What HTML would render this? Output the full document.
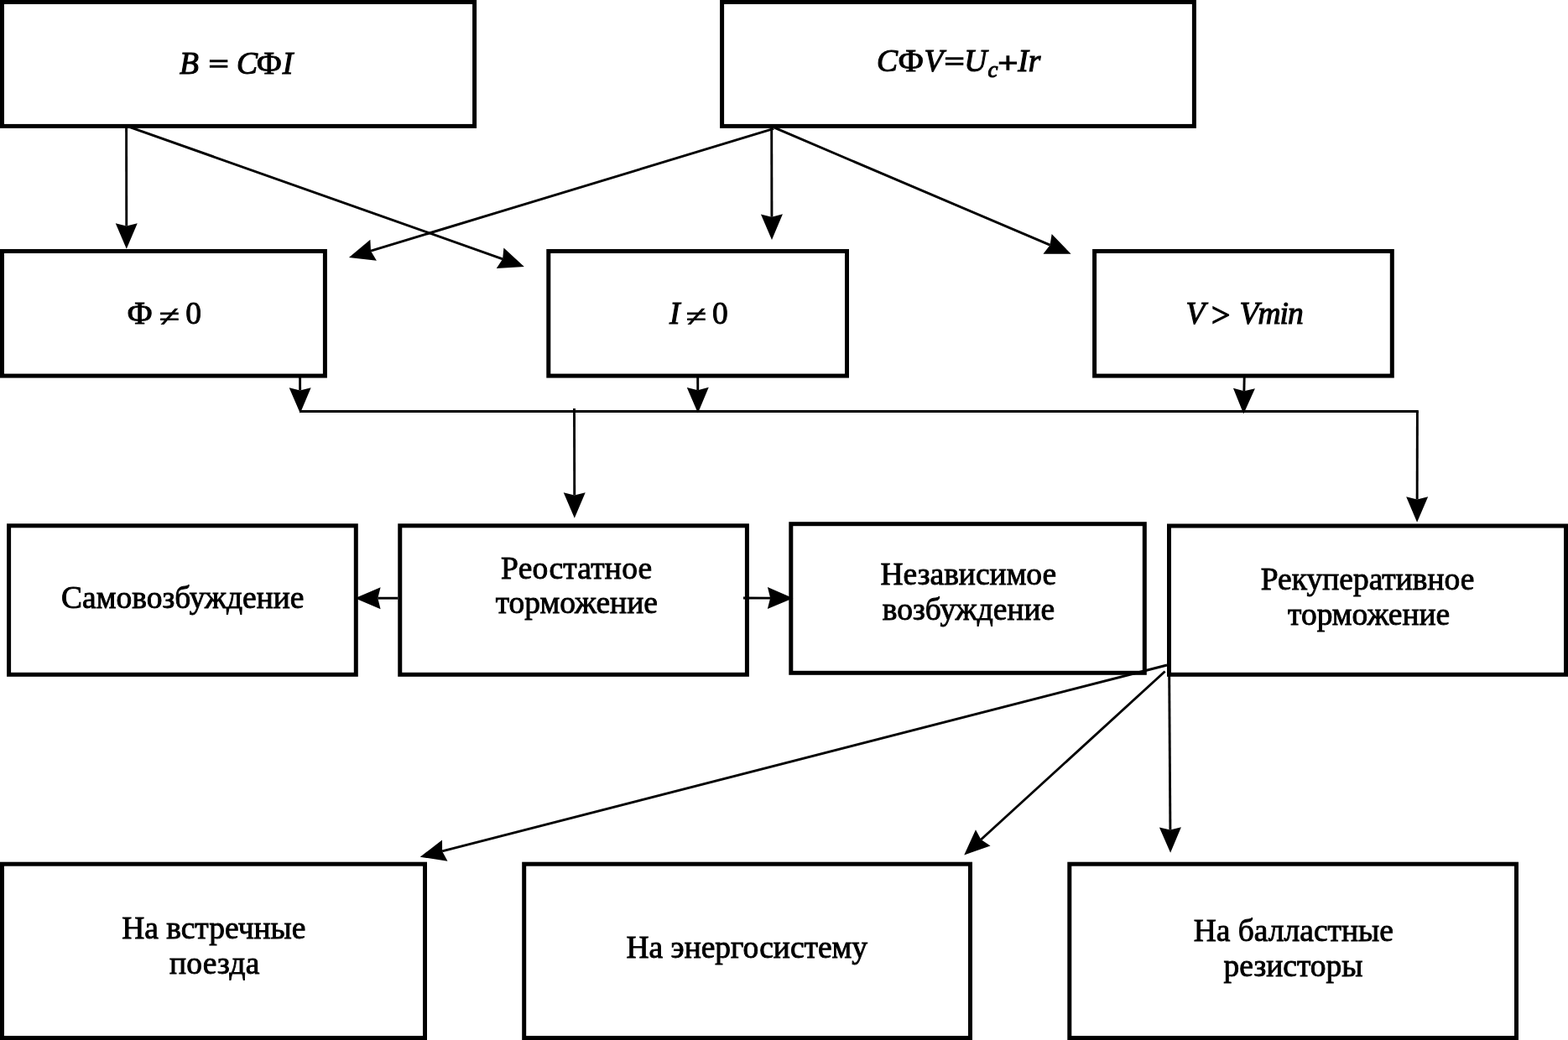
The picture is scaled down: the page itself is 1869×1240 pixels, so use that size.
<!DOCTYPE html>
<html lang="ru">
<head>
<meta charset="utf-8">
<title>Схема</title>
<style>
html,body{margin:0;padding:0;background:#fff;}
body{width:1869px;height:1240px;overflow:hidden;}
svg{display:block;filter:grayscale(1);}
text{font-family:"Liberation Serif","DejaVu Serif",serif;font-size:37.5px;fill:#000;stroke:#000;stroke-width:0.9px;stroke-linejoin:miter;stroke-miterlimit:3;white-space:pre;}
.i{font-style:italic;stroke-width:1.1px;} .sub{font-size:27px;} .op{font-size:37.5px;stroke-width:1.4px;} .ne{stroke-width:0.8px;}
.box rect{fill:none;stroke:#000;stroke-width:5.0;}
.arr line{stroke:#000;stroke-width:2.9;fill:none;}
.arr polygon{fill:#000;stroke:none;}
</style>
</head>
<body>
<svg width="1869" height="1240" viewBox="0 0 1869 1240">

<g class="box">
<rect x="2.50" y="2.50" width="563.10" height="147.90"/>
<rect x="860.60" y="2.50" width="562.80" height="147.90"/>
<rect x="2.50" y="299.50" width="384.90" height="148.60"/>
<rect x="653.80" y="299.50" width="355.70" height="148.60"/>
<rect x="1304.60" y="299.50" width="354.70" height="148.60"/>
<rect x="10.60" y="626.80" width="413.70" height="177.50"/>
<rect x="476.75" y="626.80" width="413.65" height="177.50"/>
<rect x="942.80" y="624.70" width="421.50" height="177.60"/>
<rect x="1393.50" y="627.00" width="473.00" height="177.30"/>
<rect x="2.50" y="1030.20" width="504.00" height="207.30"/>
<rect x="624.70" y="1030.20" width="531.80" height="207.30"/>
<rect x="1274.80" y="1030.20" width="532.70" height="207.30"/>
</g>
<g class="arr">
<line x1="357.00" y1="490.50" x2="1690.80" y2="490.50"/>
<line x1="150.60" y1="152.00" x2="150.76" y2="269.46"/><polygon points="150.80,296.70 137.76,266.22 150.76,269.46 163.76,266.18"/>
<line x1="150.60" y1="150.10" x2="599.16" y2="308.81"/><polygon points="624.85,317.90 591.76,319.98 599.16,308.81 600.43,295.47"/>
<line x1="922.20" y1="153.40" x2="442.01" y2="299.15"/><polygon points="415.94,307.06 441.35,285.76 442.01,299.15 448.90,310.64"/>
<line x1="919.70" y1="152.00" x2="919.94" y2="258.66"/><polygon points="920.00,285.90 906.93,255.43 919.94,258.66 932.93,255.37"/>
<line x1="922.90" y1="152.20" x2="1251.56" y2="292.18"/><polygon points="1276.63,302.85 1243.47,302.86 1251.56,292.18 1253.66,278.94"/>
<line x1="357.60" y1="450.00" x2="357.67" y2="465.46"/><polygon points="357.80,492.70 344.66,462.26 357.67,465.46 370.66,462.14"/>
<line x1="831.70" y1="450.00" x2="831.77" y2="465.16"/><polygon points="831.90,492.40 818.76,461.96 831.77,465.16 844.76,461.84"/>
<line x1="1483.20" y1="450.00" x2="1482.86" y2="466.26"/><polygon points="1482.28,493.50 1469.93,462.73 1482.86,466.26 1495.92,463.28"/>
<line x1="684.50" y1="487.00" x2="684.74" y2="590.46"/><polygon points="684.80,617.70 671.73,587.23 684.74,590.46 697.73,587.17"/>
<line x1="1689.40" y1="490.50" x2="1689.16" y2="595.46"/><polygon points="1689.10,622.70 1676.17,592.17 1689.16,595.46 1702.17,592.23"/>
<line x1="474.25" y1="713.20" x2="450.34" y2="713.20"/><polygon points="423.10,713.20 453.60,700.20 450.34,713.20 453.60,726.20"/>
<line x1="886.00" y1="713.00" x2="918.16" y2="713.11"/><polygon points="945.40,713.20 914.86,726.10 918.16,713.11 914.94,700.10"/>
<line x1="1391.00" y1="793.00" x2="527.12" y2="1014.94"/><polygon points="500.73,1021.72 527.03,1001.54 527.12,1014.94 533.50,1026.73"/>
<line x1="1388.60" y1="800.50" x2="1169.34" y2="1001.02"/><polygon points="1149.24,1019.41 1162.97,989.23 1169.34,1001.02 1180.52,1008.42"/>
<line x1="1393.70" y1="806.00" x2="1394.92" y2="989.56"/><polygon points="1395.11,1016.80 1381.90,986.39 1394.92,989.56 1407.90,986.21"/>
</g>
<g class="txt">
<text><tspan class="i" x="213.95" y="88.40">B</tspan><tspan> </tspan><tspan class="op" style="font-size:30.67px" x="248.68" y="87.34" textLength="23.72" lengthAdjust="spacingAndGlyphs">=</tspan><tspan> </tspan><tspan class="i" x="281.90" y="88.40">C</tspan><tspan x="306.02" y="88.40" textLength="29.64" lengthAdjust="spacingAndGlyphs">Φ</tspan><tspan class="i" x="336.80" y="88.40">I</tspan></text>
<text><tspan class="i" x="1045.05" y="85.20">C</tspan><tspan x="1070.81" y="85.20" textLength="29.94" lengthAdjust="spacingAndGlyphs">Φ</tspan><tspan class="i" x="1101.60" y="85.20">V</tspan><tspan class="op" style="font-size:30.67px" x="1125.68" y="83.64" textLength="23.72" lengthAdjust="spacingAndGlyphs">=</tspan><tspan class="i" x="1149.30" y="85.20">U</tspan><tspan class="i sub" x="1177.55" y="92.10">c</tspan><tspan class="op" style="font-size:33.94px" x="1189.48" y="85.61" textLength="23.72" lengthAdjust="spacingAndGlyphs">+</tspan><tspan class="i" x="1213.15" y="85.20">I</tspan><tspan class="i" x="1225.85" y="85.20">r</tspan></text>
<text><tspan x="151.81" y="386.30" textLength="29.75" lengthAdjust="spacingAndGlyphs">Φ</tspan><tspan> </tspan><tspan class="op ne" style="font-size:35.55px" x="189.82" y="388.70" textLength="24.36" lengthAdjust="spacingAndGlyphs">≠</tspan><tspan> </tspan><tspan x="221.20" y="386.30">0</tspan></text>
<text><tspan class="i" x="798.10" y="386.30">I</tspan><tspan> </tspan><tspan class="op ne" style="font-size:35.55px" x="817.72" y="388.70" textLength="24.36" lengthAdjust="spacingAndGlyphs">≠</tspan><tspan> </tspan><tspan x="849.10" y="386.30">0</tspan></text>
<text><tspan class="i" x="1413.40" y="386.10">V</tspan><tspan> </tspan><tspan class="op" style="font-size:39.00px" x="1443.95" y="389.42" textLength="22.28" lengthAdjust="spacingAndGlyphs">&gt;</tspan><tspan> </tspan><tspan class="i" style="letter-spacing:-0.97px" x="1477.55" y="386.10">Vmin</tspan></text>
<text x="73.05" y="724.70">Самовозбуждение</text>
<text x="597.10" y="689.50" style="letter-spacing:0.22px">Реостатное</text>
<text x="590.65" y="731.00">торможение</text>
<text x="1049.50" y="697.30">Независимое</text>
<text x="1051.85" y="738.50">возбуждение</text>
<text x="1502.75" y="702.70">Рекуперативное</text>
<text x="1535.05" y="744.70">торможение</text>
<text x="145.15" y="1119.30">На встречные</text>
<text x="202.10" y="1161.10" style="letter-spacing:0.20px">поезда</text>
<text x="746.45" y="1142.20">На энергосистему</text>
<text x="1422.70" y="1121.60">На балластные</text>
<text x="1458.55" y="1163.60">резисторы</text>
</g>
</svg>
</body>
</html>
